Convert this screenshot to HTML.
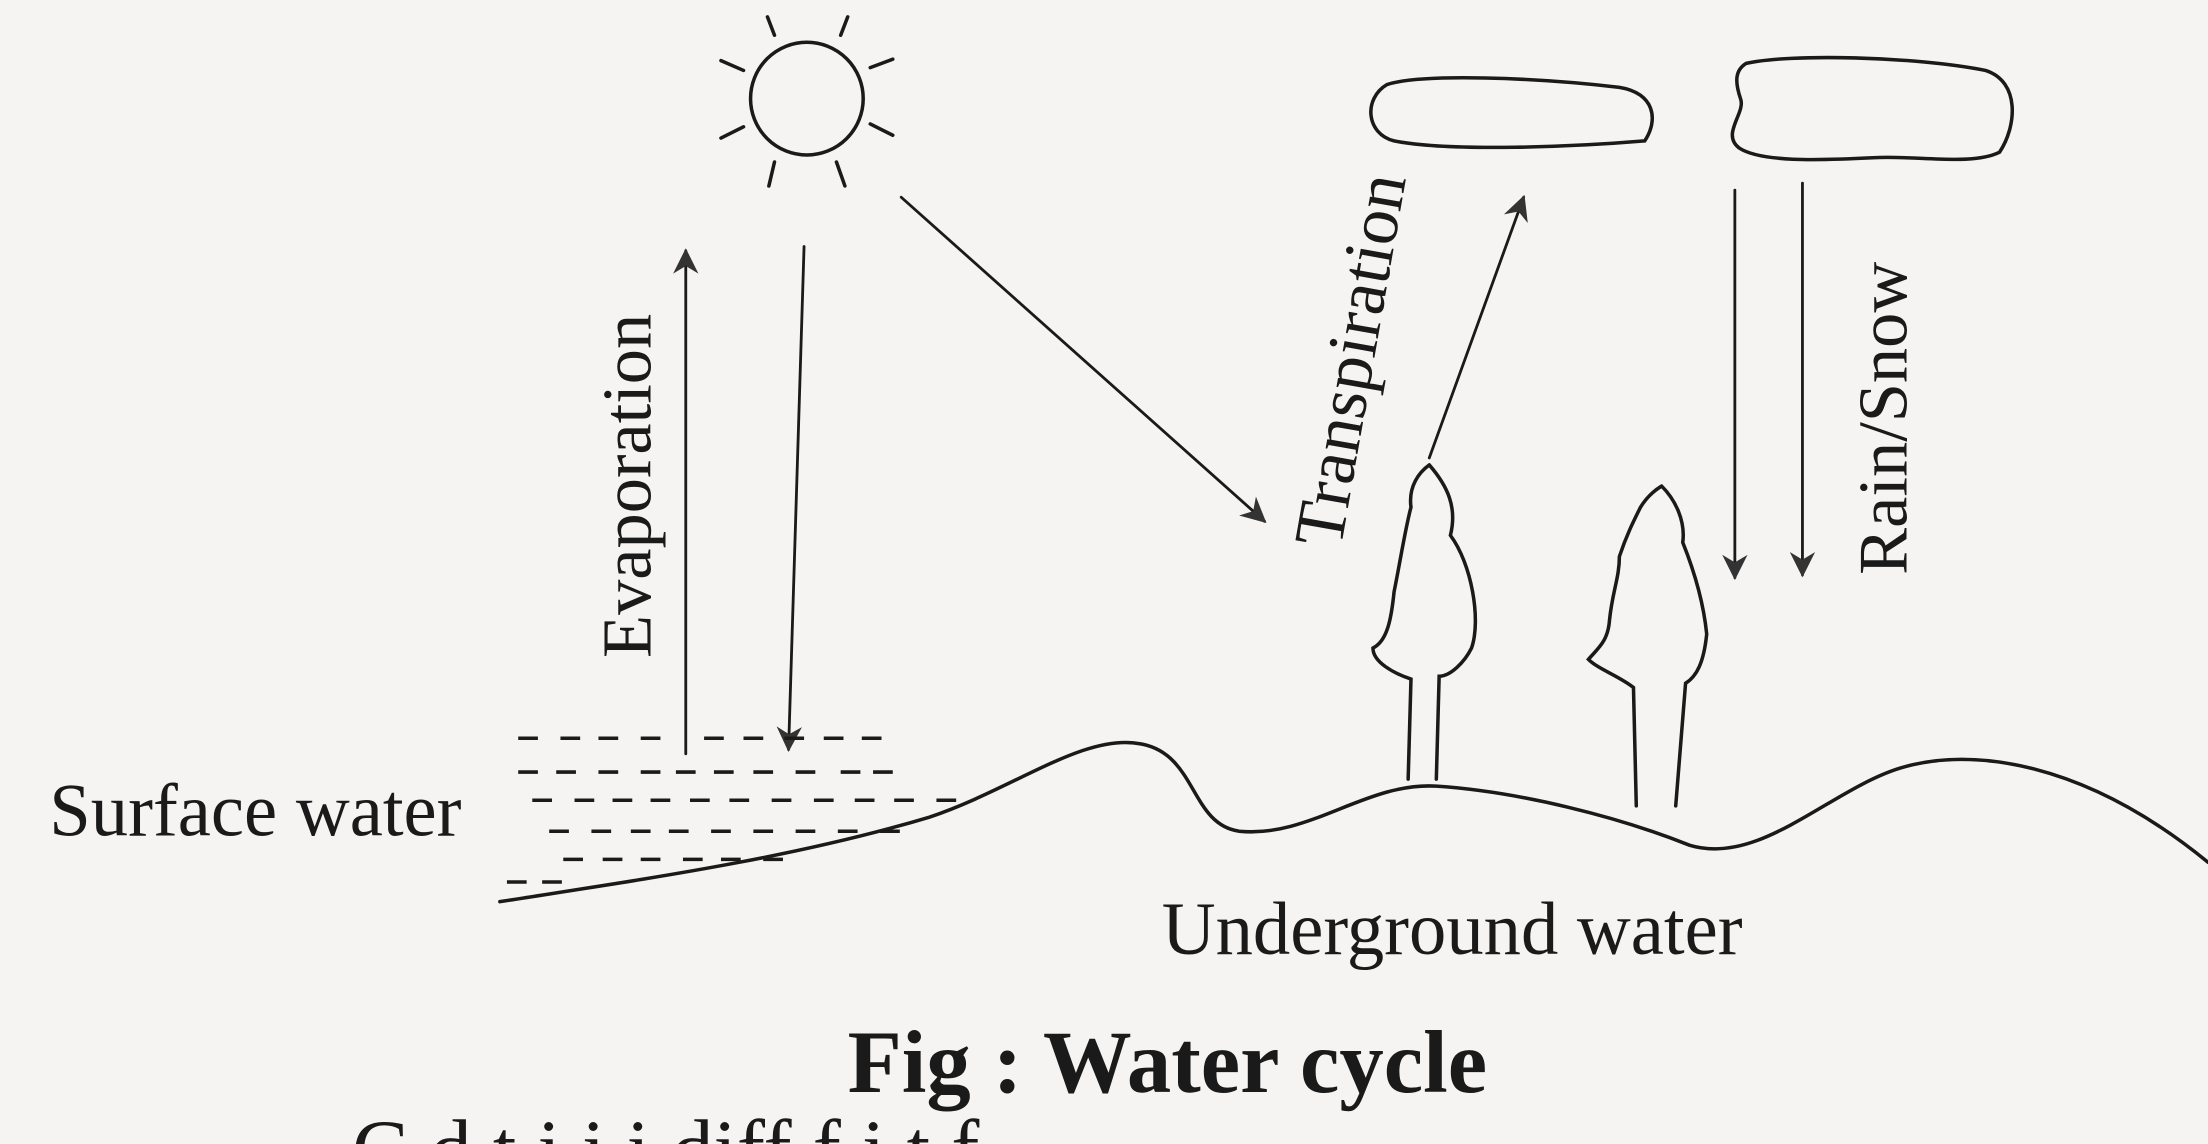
<!DOCTYPE html>
<html><head><meta charset="utf-8"><style>
html,body{margin:0;padding:0;background:#f6f4f3;}
svg{display:block;}
text{font-family:"Liberation Serif",serif;fill:#1a1a1a;}
</style></head><body>
<svg width="2208" height="1144" viewBox="0 0 1568 812" preserveAspectRatio="none" xmlns="http://www.w3.org/2000/svg">
<defs>
<marker id="ah2" viewBox="0 0 10 10" refX="9" refY="5" markerWidth="24" markerHeight="18" markerUnits="userSpaceOnUse" orient="auto">
<path d="M0,0 L10,5 L0,10 L3,5 z" fill="#333"/></marker>
</defs>
<rect width="1568" height="812" fill="#f6f4f3"/>
<g stroke="#1a1a1a" stroke-width="2.5" fill="none" stroke-linecap="round">
<circle cx="573" cy="70" r="40"/>
<line x1="550" y1="25" x2="545" y2="12"/><line x1="597" y1="25" x2="602" y2="12"/>
<line x1="528" y1="50" x2="512" y2="43"/><line x1="618" y1="48" x2="634" y2="42"/>
<line x1="528" y1="90" x2="512" y2="98"/><line x1="618" y1="88" x2="634" y2="96"/>
<line x1="550" y1="115" x2="546" y2="132"/><line x1="594" y1="115" x2="600" y2="132"/>
<path d="M985,60 C1010,52 1090,55 1150,62 C1175,66 1178,85 1168,100 C1120,104 1030,108 990,100 C970,95 968,70 985,60 Z"/>
<path d="M1240,45 C1270,38 1360,40 1410,50 C1435,58 1432,90 1420,108 C1400,118 1360,110 1330,112 C1290,114 1250,115 1235,105 C1222,95 1240,80 1236,70 C1232,58 1232,50 1240,45 Z"/>
<line x1="487" y1="535" x2="487" y2="178" stroke-width="2" marker-end="url(#ah2)"/>
<line x1="571" y1="175" x2="560" y2="532" stroke-width="2" marker-end="url(#ah2)"/>
<line x1="640" y1="140" x2="898" y2="370" stroke-width="2" marker-end="url(#ah2)"/>
<line x1="1015" y1="325" x2="1082" y2="140" stroke-width="2" marker-end="url(#ah2)"/>
<line x1="1232" y1="135" x2="1232" y2="410" stroke-width="2" marker-end="url(#ah2)"/>
<line x1="1280" y1="130" x2="1280" y2="408" stroke-width="2" marker-end="url(#ah2)"/>
<path d="M355,640 C450,625 560,610 660,580 C720,560 770,520 810,528 C850,535 845,585 880,590 C930,595 970,555 1020,558 C1080,562 1150,580 1200,600 C1250,615 1300,560 1350,545 C1400,530 1480,540 1568,612"/>
<path d="M1015,330 C1028,345 1035,360 1030,380 C1045,400 1052,440 1045,460 C1040,470 1030,480 1022,480 L1020,553 M1000,553 L1002,482 C990,478 975,470 975,460 C985,455 988,440 990,420 C995,395 998,375 1002,360 C1000,345 1008,335 1015,330"/>
<path d="M1180,345 C1190,355 1197,370 1195,385 C1205,410 1210,430 1212,450 C1210,470 1205,480 1197,485 L1190,572 M1162,572 L1160,488 C1150,480 1135,475 1128,468 C1135,460 1142,455 1143,440 C1145,420 1150,410 1150,395 C1155,380 1160,370 1165,360 C1170,352 1175,348 1180,345"/>
</g>
<g stroke="#1a1a1a" stroke-width="2.5">
<path d="M368,524h14M398,524h14M425,524h14M455,524h14M500,524h14M528,524h14M557,524h14M585,524h14M612,524h14
M368,548h14M395,548h14M425,548h14M455,548h14M480,548h14M507,548h14M535,548h14M565,548h14M597,548h14M620,548h14
M378,568h14M408,568h14M435,568h14M462,568h14M490,568h14M518,568h14M548,568h14M578,568h14M607,568h14M635,568h14M665,568h14
M390,590h14M420,590h14M448,590h14M475,590h14M505,590h14M535,590h14M565,590h14M595,590h14M625,590h14
M400,610h14M428,610h14M455,610h14M485,610h14M512,610h14M542,610h14
M360,626h14M385,626h14"/>
</g>
<text x="35" y="593" font-size="53">Surface water</text>
<text x="825" y="677" font-size="53">Underground water</text>
<text transform="translate(462,467) rotate(-90)" font-size="50">Evaporation</text>
<text transform="translate(952,390) rotate(-80)" font-size="50">Transpiration</text>
<text transform="translate(1354,408) rotate(-90)" font-size="50">Rain/Snow</text>
<text x="829" y="775" font-size="63" font-weight="bold" text-anchor="middle">Fig : Water cycle</text>
<text x="250" y="836" font-size="60" fill="#333">C  d   t  i  i  i    diff    f    i  t  f</text>
</svg>
</body></html>
